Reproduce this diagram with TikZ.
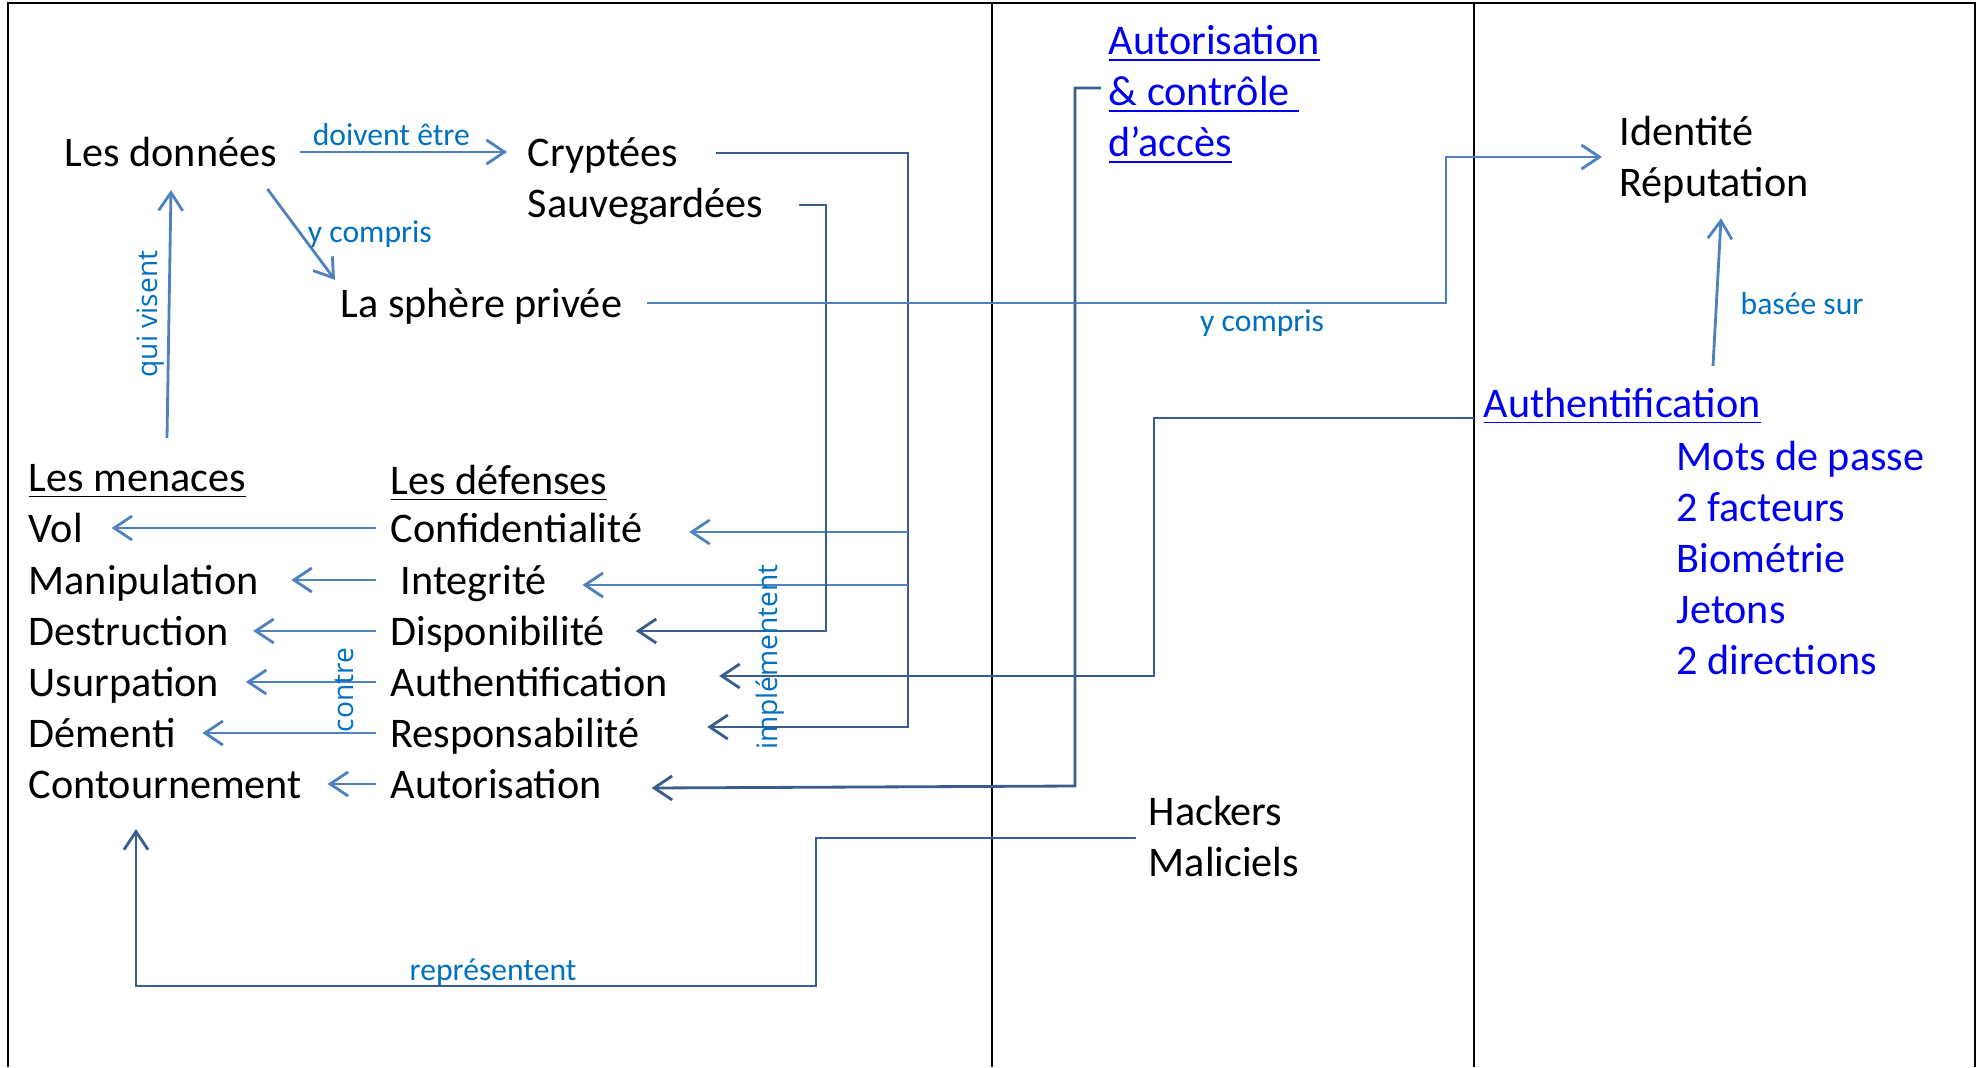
\documentclass[tikz,border=0pt]{standalone}
\usepackage{fontspec}
\setmainfont{Carlito}
\newfontfamily\sidefont{Open Sans}
\usetikzlibrary{arrows.meta,calc}

\definecolor{lineblue}{RGB}{79,129,189}
\definecolor{darkline}{RGB}{58,94,140}
\definecolor{labelblue}{RGB}{0,112,192}
\definecolor{linkblue}{RGB}{0,0,238}

\tikzset{
  word/.style={font=\fontsize{12}{14.5}\selectfont, inner sep=0pt, anchor=west, text height=10.5pt, text depth=2.5pt},
  block/.style={font=\fontsize{12}{14.5}\selectfont, inner sep=0pt, anchor=west, align=left},
  lbl/.style={font=\fontsize{9}{10}\selectfont, text=labelblue, inner sep=1.5pt},
  sidelbl/.style={font=\sidefont\fontsize{8}{9}\selectfont, text=labelblue, inner sep=1pt, rotate=90},
  ltarrow/.style={draw=lineblue, line width=0.8pt, -{Straight Barb[length=1.8mm,width=2.4mm]}},
  dkarrow/.style={draw=darkline, line width=0.8pt, -{Straight Barb[length=1.8mm,width=2.4mm]}},
  panel/.style={black, line width=0.7pt},
}

\begin{document}
\begin{tikzpicture}[x=0.01cm, y=-0.01cm]
        \useasboundingbox (0,0) rectangle (1983,1067);

        \draw[panel] (8,1067) -- (8,3) -- (1975,3) -- (1975,1067);
        \draw[panel] (992,3) -- (992,1067);
        \draw[panel] (1474,3) -- (1474,1067);

        \node[word] (donnees) at (64,152) {Les données};
        \node[word] (crypt) at (527,152) {Cryptées};
        \node[word] (sauv) at (527,203) {Sauvegardées};
        \node[word] (sphere) at (340,303) {La sphère privée};

        \node[word] (menaces) at (28,477) {\underline{Les menaces}};
        \node[word] (vol) at (28,528) {Vol};
        \node[word] (manip) at (28,580) {Manipulation};
        \node[word] (destr) at (28,631) {Destruction};
        \node[word] (usurp) at (28,682) {Usurpation};
        \node[word] (dementi) at (28,733) {Démenti};
        \node[word] (contour) at (28,784) {Contournement};

        \node[word] (defenses) at (390,480) {\underline{Les défenses}};
        \node[word] (conf) at (390,528) {Confidentialité};
        \node[word] (integ) at (400,580) {Integrité};
        \node[word] (dispo) at (390,631) {Disponibilité};
        \node[word] (authd) at (390,682) {Authentification};
        \node[word] (resp) at (390,733) {Responsabilité};
        \node[word] (autd) at (390,784) {Autorisation};

        \node[block, text=linkblue] (autctl) at (1108,95) {\underline{Autorisation}\\\underline{\& contrôle\ }\\\underline{d’accès}};
        \node[block] (ident) at (1619,160) {Identité\\Réputation};
        \node[word, text=linkblue] (autht) at (1483,403) {\underline{Authentification}};
        \node[block, text=linkblue] (methods) at (1676,558) {Mots de passe\\2 facteurs\\Biométrie\\Jetons\\2 directions};
        \node[block] (hackers) at (1148,836) {Hackers\\Maliciels};

        \coordinate (bus1) at (908,0);
        \coordinate (bus2) at (826,0);
        \coordinate (bus3) at (1154,0);
        \coordinate (bus4) at (1075,0);
        \coordinate (bus5) at (816,986);
        \coordinate (hk) at ($(contour.south west)+(108,21.5)$);

        \draw[ltarrow] ($(donnees.east)+(23,0)$) -- ($(crypt.west)+(-20,0)$) node[pos=0.44, above, lbl] {doivent être};
        \draw[ltarrow] ($(donnees.south east)+(-10,13.5)$) -- ($(sphere.north west)+(-5,0.5)$) node[midway, right, lbl] {y compris};
        \draw[ltarrow] ($(menaces.north west)+(139,-15.5)$) -- ($(donnees.south west)+(107,14.5)$) node[midway, anchor=south, sidelbl] {qui visent};

        \draw[ltarrow] ($(conf.west)+(-14,0)$) -- ($(vol.east)+(28,0)$);
        \draw[ltarrow] ($(integ.west)+(-24,0)$) -- ($(manip.east)+(32,0)$);
        \draw[ltarrow] ($(dispo.west)+(-14,0)$) -- ($(destr.east)+(24,0)$);
        \draw[ltarrow] ($(authd.west)+(-14,0)$) -- ($(usurp.east)+(26,0)$);
        \draw[ltarrow] ($(resp.west)+(-14,0)$) -- ($(dementi.east)+(26,0)$);
        \draw[ltarrow] ($(autd.west)+(-14,0)$) -- ($(contour.east)+(25,0)$);
        \node[sidelbl] (contre) at (344,690) {contre};

        \draw[dkarrow] ($(crypt.east)+(37,1)$) -| ($(bus1 |- resp.east)+(0,-6)$) -- ($(resp.east)+(67,-6)$);
        \draw[ltarrow] ($(bus1 |- conf.east)+(0,4)$) -- ($(conf.east)+(46,4)$);
        \draw[ltarrow] ($(bus1 |- integ.east)+(0,5)$) -- ($(integ.east)+(35,5)$);
        \draw[dkarrow] ($(sauv.east)+(35,2)$) -| (bus2 |- dispo.east) -- ($(dispo.east)+(30,0)$);
        \draw[dkarrow] ($(autht.west)+(-9,15)$) -| ($(bus3 |- authd.east)+(0,-6)$) -- ($(authd.east)+(51,-6)$);
        \draw[dkarrow] ($(autctl.west)+(-7,-7)$) -| ($(bus4 |- autd.east)+(0,2)$) -- ($(autd.east)+(49,4)$);
        \node[sidelbl] (impl) at (770,657) {implémentent};

        \draw[ltarrow] ($(sphere.east)+(24,0)$) -| ($(ident.west)+(-173,-3)$) node[pos=0.385, below, lbl] {y compris} -- ($(ident.west)+(-17,-3)$);
        \draw[ltarrow] ($(autht.north west)+(230,-13.5)$) -- ($(ident.south west)+(102,14)$) node[pos=0.42, right=5pt, lbl] {basée sur};

        \draw[dkarrow] ($(hackers.west)+(-12,2)$) -| (bus5) -- (bus5 -| hk) node[pos=0.475, above=-0.2pt, lbl, inner sep=0pt] {représentent} -- (hk);
    \end{tikzpicture}
\end{document}
